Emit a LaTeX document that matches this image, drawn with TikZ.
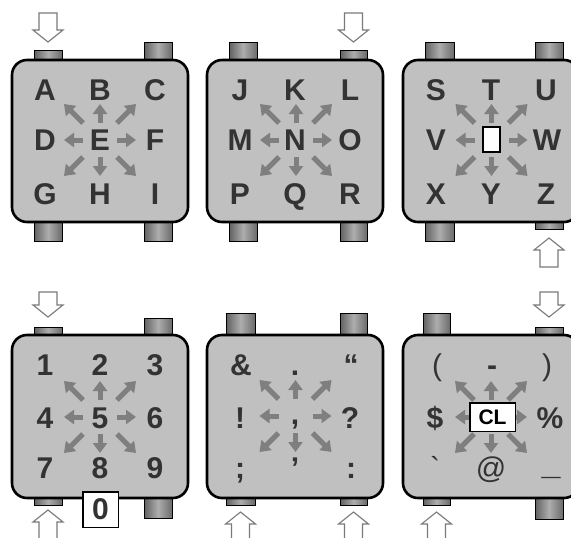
\documentclass[tikz,border=0pt]{standalone}
\usepackage{fontspec}
\setmainfont{Liberation Sans}
\newfontfamily\rawsans{Liberation Sans}
\usetikzlibrary{arrows.meta}
\definecolor{boxgray}{HTML}{C0C0C0}
\definecolor{arrgray}{HTML}{7F7F7F}
\definecolor{txtgray}{HTML}{333333}
\definecolor{hollowgray}{HTML}{7A7A7A}
\tikzset{
  lbl/.style={anchor=base, inner sep=0pt, text=txtgray, font=\bfseries\fontsize{30}{30}\selectfont},
  lblr/.style={anchor=base, inner sep=0pt, text=txtgray, font=\fontsize{30}{30}\selectfont},
  panel/.style={draw=black, line width=2.6pt, fill=boxgray, rounded corners=15pt},
  tab/.style={draw=black, line width=0.9pt, left color=black!62, right color=black!58, middle color=black!32},
  grayarrow/.style={draw=arrgray, line width=5pt, -{Triangle[width=14pt,length=10pt]}},
  hollowarrow/.style={draw=hollowgray, line width=1.1pt, fill=white, line join=miter},
  whitebox/.style={draw=black, fill=white, inner sep=0pt}
}
\newcommand{\mytab}[4]{\path[tab] (#1,#3) rectangle (#2,#4);}
\newcommand{\hollowdn}[3]{% x, tip y, length
  \draw[hollowarrow] ({#1-9},{#2-#3}) -- ({#1+9},{#2-#3}) -- ({#1+9},{#2-12}) -- ({#1+15},{#2-12}) -- (#1,#2) -- ({#1-15},{#2-12}) -- ({#1-9},{#2-12}) -- cycle;}
\newcommand{\hollowup}[3]{%
  \draw[hollowarrow] ({#1-9},{#2+#3}) -- ({#1+9},{#2+#3}) -- ({#1+9},{#2+12}) -- ({#1+15},{#2+12}) -- (#1,#2) -- ({#1-15},{#2+12}) -- ({#1-9},{#2+12}) -- cycle;}
\newcommand{\starrows}[2]{%
  \foreach \dx/\dy in {1/0,-1/0,0/1,0/-1,1/1,1/-1,-1/1,-1/-1}{
    \draw[grayarrow] ({#1+17*\dx},{#2+17*\dy}) -- ({#1+36*\dx},{#2+36*\dy});
  }}
\begin{document}
\begin{tikzpicture}[x=1pt,y=-1pt]
\useasboundingbox (0,0) rectangle (571,538);
\clip (0,0) rectangle (571,538);
\fill[white] (0,0) rectangle (571,538);
% ---------- tabs row 1
\mytab{34}{62}{50}{61}
\mytab{144}{172}{42}{61}
\mytab{34}{62}{221}{241}
\mytab{144}{172}{221}{241}
\mytab{229}{257}{42}{61}
\mytab{340}{367}{50}{61}
\mytab{229}{257}{221}{241}
\mytab{340}{367}{221}{241}
\mytab{425}{454}{42}{61}
\mytab{535}{563}{42}{61}
\mytab{425}{454}{221}{241}
\mytab{535}{563}{221}{229}
% ---------- tabs row 2
\mytab{34}{62}{327}{336}
\mytab{144}{172}{318}{336}
\mytab{34}{62}{497}{505}
\mytab{144}{172}{497}{518}
\mytab{226}{255}{313}{336}
\mytab{340}{367}{313}{336}
\mytab{226}{255}{497}{505}
\mytab{340}{367}{497}{505}
\mytab{423}{450}{313}{336}
\mytab{535}{563}{327}{336}
\mytab{423}{450}{497}{505}
\mytab{535}{563}{497}{519}
% ---------- panels
\path[panel] (12,60) rectangle (188,222);
\path[panel] (207,60) rectangle (383,222);
\path[panel] (403,60) rectangle (579,222);
\path[panel] (12,335) rectangle (188,498);
\path[panel] (207,335) rectangle (383,498);
\path[panel] (403,335) rectangle (579,498);
% ---------- hollow arrows
\hollowdn{48}{42}{29}
\hollowdn{353.5}{42}{29}
\hollowup{549}{238}{29}
\hollowdn{48}{317}{25}
\hollowdn{549}{317}{25}
\hollowup{48}{510}{35}
\hollowup{240.5}{512}{35}
\hollowup{353.5}{512}{35}
\hollowup{436.5}{512}{35}
% ---------- gray arrow stars
\starrows{100}{140}
\starrows{296}{140}
\starrows{491.5}{140}
\starrows{100}{417}
\starrows{295.5}{416}
\starrows{491}{417}
% ---------- panel 1
\node[lbl] (A) at (45,100) {A};
\node[lbl] (B) at (100,100) {B};
\node[lbl] (C) at (155,100) {C};
\node[lbl] (D) at (45,150) {D};
\node[lbl] (E) at (100,150) {E};
\node[lbl] (F) at (155,150) {F};
\node[lbl] (G) at (45,204) {G};
\node[lbl] (H) at (100,204) {H};
\node[lbl] (I) at (155,204) {I};
% ---------- panel 2
\node[lbl] (J) at (240,100) {J};
\node[lbl] (K) at (295,100) {K};
\node[lbl] (L) at (350,100) {L};
\node[lbl] (M) at (240,150) {M};
\node[lbl] (N) at (295,150) {N};
\node[lbl] (O) at (350,150) {O};
\node[lbl] (P) at (240,204) {P};
\node[lbl] (Q) at (295,204) {Q};
\node[lbl] (R) at (350,204) {R};
% ---------- panel 3
\node[lbl] (S) at (436,100) {S};
\node[lbl] (T) at (491,100) {T};
\node[lbl] (U) at (546,100) {U};
\node[lbl] (V) at (436,150) {V};
\node[whitebox, line width=1.8pt, minimum width=17.5pt, minimum height=25.5pt] (blank) at (491.5,139.5) {};
\node[lbl] (W) at (547,150) {W};
\node[lbl] (X) at (436,204) {X};
\node[lbl] (Y) at (491,204) {Y};
\node[lbl] (Z) at (546,204) {Z};
% ---------- panel 4
\node[lbl] (d1) at (45,375) {1};
\node[lbl] (d2) at (100,375) {2};
\node[lbl] (d3) at (155,375) {3};
\node[lbl] (d4) at (45,428) {4};
\node[lbl] (d5) at (100,428) {5};
\node[lbl] (d6) at (155,428) {6};
\node[lbl] (d7) at (45,478) {7};
\node[lbl] (d8) at (100,478) {8};
\node[lbl] (d9) at (155,478) {9};
\node[whitebox, line width=1.5pt, minimum width=35.5pt, minimum height=35.5pt, text=txtgray, font=\bfseries\fontsize{30}{30}\selectfont] (d0) at (100.5,509.5) {0};
% ---------- panel 5
\node[lbl] (amp) at (241,375) {\&};
\node[lbl] (dot) at (295,375) {.};
\node[lbl] (ldq) at (351,375) {“};
\node[lbl] (excl) at (240,428) {!};
\node[lbl] (comma) at (295,424) {,};
\node[lbl] (quest) at (350,428) {?};
\node[lbl] (semi) at (240,478) {;};
\node[lbl] (apos) at (295,478) {’};
\node[lbl] (colon) at (351,478) {:};
% ---------- panel 6
\node[lblr] (lpar) at (437,375) {(};
\node[lbl] (hyph) at (492,375) {-};
\node[lblr] (rpar) at (547,375) {)};
\node[lbl] (dollar) at (435,428) {\$};
\node[whitebox, line width=1.5pt, minimum width=45.5pt, minimum height=28.5pt, text=black, font=\bfseries\fontsize{21}{21}\selectfont] (cl) at (492.5,417) {CL};
\node[lbl] (pct) at (550,428) {\%};
\node[lblr, font=\rawsans\fontsize{30}{30}\selectfont] (grave) at (435,478) {\symbol{96}};
\node[lblr] (at) at (491,478) {@};
\node[lbl, font=\bfseries\fontsize{34}{34}\selectfont] (uscore) at (551,474) {\symbol{95}};
\end{tikzpicture}
\end{document}
